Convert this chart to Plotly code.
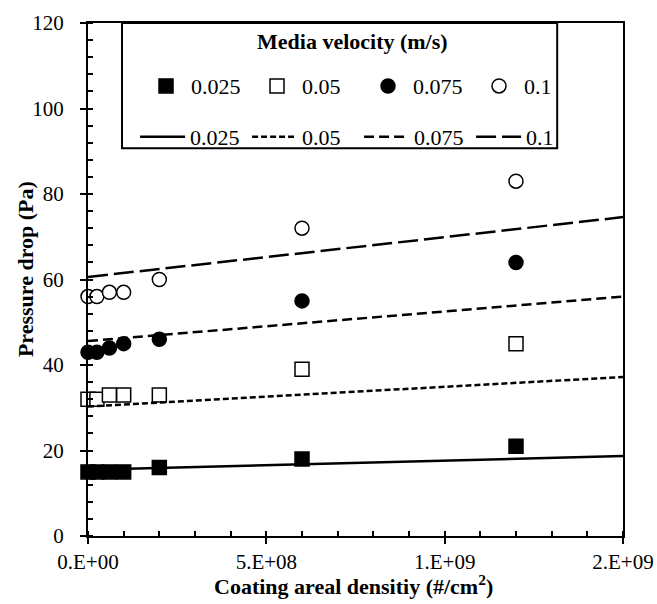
import plotly.graph_objects as go

# ---- data ----
density = [0, 2.5e7, 6e7, 1e8, 2e8, 6e8, 1.2e9]
velocity_labels = ["0.025", "0.05", "0.075", "0.1"]
dp_v0025 = [15, 15, 15, 15, 16, 18, 21]
dp_v005 = [32, 32, 33, 33, 33, 39, 45]
dp_v0075 = [43, 43, 44, 45, 46, 55, 64]
dp_v01 = [56, 56, 57, 57, 60, 72, 83]

model_density = [0, 5e8, 1e9, 1.5e9]
model_v0025 = [15.5, 16.6, 17.7, 18.7]
model_v005 = [30.3, 32.6, 34.9, 37.2]
model_v0075 = [45.6, 49.1, 52.6, 56.0]
model_v01 = [60.6, 65.2, 69.9, 74.6]

x_tickvals = [0, 5e8, 1e9, 1.5e9]
x_ticktext = ["0.E+00", "5.E+08", "1.E+09", "2.E+09"]
y_tickvals = [0, 20, 40, 60, 80, 100, 120]

FONT = "Liberation Serif"

measured = [dp_v0025, dp_v005, dp_v0075, dp_v01]
model = [model_v0025, model_v005, model_v0075, model_v01]
symbols = ["square", "square", "circle", "circle"]
fills = ["black", "white", "black", "white"]
dashes = ["solid", "6px,3px", "10px,5px", "20px,6px"]

fig = go.Figure()
for lab, ys, sym, fc in zip(velocity_labels, measured, symbols, fills):
    fig.add_trace(go.Scatter(
        x=density, y=ys, mode="markers", name=lab, legend="legend",
        marker=dict(symbol=sym, size=14, color=fc,
                    line=dict(color="black", width=1.5)),
        cliponaxis=False,
    ))
for lab, ys, dash in zip(velocity_labels, model, dashes):
    fig.add_trace(go.Scatter(
        x=model_density, y=ys, mode="lines", name=lab, legend="legend2",
        line=dict(color="black", width=2.5, dash=dash),
    ))

# legend box
fig.add_shape(type="rect", xref="paper", yref="paper",
              x0=0.0636, x1=0.877, y0=0.756, y1=1.0,
              line=dict(color="black", width=2), fillcolor="white", layer="below")
fig.add_annotation(text="<b>Media velocity (m/s)</b>", xref="paper", yref="paper",
                   x=0.495, y=0.963, showarrow=False, yanchor="middle",
                   font=dict(family=FONT, size=22, color="black"))

# axis titles
fig.add_annotation(text="<b>Coating areal densitiy (#/cm<sup>2</sup>)</b>",
                   xref="paper", yref="paper", x=0.497, y=-0.095,
                   xanchor="center", yanchor="middle", showarrow=False,
                   font=dict(family=FONT, size=22, color="black"))
fig.add_annotation(text="<b>Pressure drop (Pa)</b>",
                   xref="paper", yref="paper", x=-0.118, y=0.52,
                   xanchor="center", yanchor="middle", textangle=-90, showarrow=False,
                   font=dict(family=FONT, size=22, color="black"))

leg_common = dict(orientation="h", xanchor="left", yanchor="middle",
                  bgcolor="rgba(0,0,0,0)", borderwidth=0,
                  font=dict(family=FONT, size=22, color="black"),
                  entrywidthmode="pixels", traceorder="normal")

fig.update_layout(
    width=657, height=604,
    margin=dict(l=88, r=34, t=23, b=68),
    paper_bgcolor="white", plot_bgcolor="white",
    font=dict(family=FONT, size=21, color="black"),
    showlegend=True,
    legend=dict(x=0.0991, y=0.877, itemwidth=40, entrywidth=56, **leg_common),
    legend2=dict(x=0.088, y=0.778, itemwidth=45, entrywidth=52, **leg_common),
    xaxis=dict(
        range=[0, 1.5e9], tickmode="array", tickvals=x_tickvals, ticktext=x_ticktext,
        ticks="outside", ticklen=6, tickwidth=1.5, tickcolor="black",
        showline=True, linewidth=2, linecolor="black", mirror=True,
        showgrid=False, zeroline=False, automargin=False,
        minor=dict(tickmode="linear", tick0=0, dtick=1e8, ticks="inside",
                   ticklen=5, tickwidth=1.5, tickcolor="black"),
        tickfont=dict(family=FONT, size=21),
    ),
    yaxis=dict(
        range=[0, 120], tickmode="array", tickvals=y_tickvals,
        ticks="outside", ticklen=6, tickwidth=1.5, tickcolor="black",
        showline=True, linewidth=2, linecolor="black", mirror=True,
        showgrid=False, zeroline=False, automargin=False,
        ticklabelstandoff=12,
        minor=dict(tickmode="linear", tick0=0, dtick=4, ticks="inside",
                   ticklen=5, tickwidth=1.5, tickcolor="black"),
        tickfont=dict(family=FONT, size=21),
    ),
)

fig.write_html("out.html", config={"displayModeBar": False},
               post_script="document.body.style.margin='0';document.body.style.overflow='hidden';")
